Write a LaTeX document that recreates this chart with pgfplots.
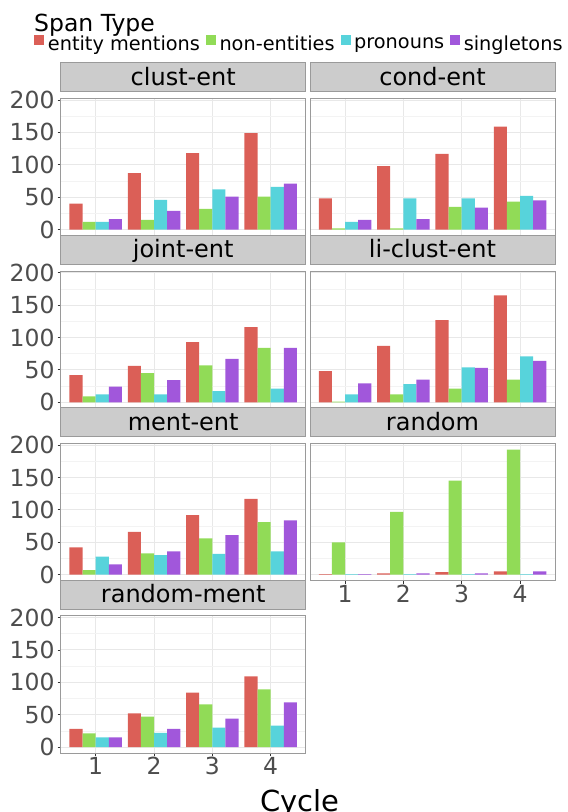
\documentclass[border=0pt]{standalone}
\usepackage{fontspec}
\setmainfont{DejaVu Sans}
\usepackage{pgfplots}
\usepackage{pgfplotstable}
\pgfplotsset{compat=1.18}

\definecolor{cRed}{HTML}{DB5F57}
\definecolor{cGreen}{HTML}{91DB57}
\definecolor{cCyan}{HTML}{57D3DB}
\definecolor{cPurple}{HTML}{A157DB}
\definecolor{stripfill}{HTML}{CCCCCC}
\definecolor{panelborder}{HTML}{9A9A9A}
\definecolor{gridmaj}{HTML}{E8E8E8}
\definecolor{gridmin}{HTML}{F3F3F3}
\definecolor{labelgray}{HTML}{4D4D4D}
\definecolor{tickcol}{HTML}{333333}

\newcommand\tickfont{\fontsize{23.5}{28}\selectfont}
\newcommand\stripfont{\fontsize{24}{29}\selectfont}
\newcommand\legfont{\fontsize{19.3}{23}\selectfont}
\newcommand\legtitlefont{\fontsize{23.5}{28}\selectfont}
\newcommand\cyclefont{\fontsize{29}{34}\selectfont}

\pgfplotstableread{
cycle red green cyan purple
1 40 12 12 16
2 87 15 46 29
3 118 32 62 51
4 149 51 66 71
}\clustent
\pgfplotstableread{
cycle red green cyan purple
1 48 2 12 15
2 98 2 48 16
3 117 35 48 34
4 159 43 52 45
}\condent
\pgfplotstableread{
cycle red green cyan purple
1 42 9 12 24
2 56 45 12 34
3 93 57 17 67
4 116 84 21 84
}\jointent
\pgfplotstableread{
cycle red green cyan purple
1 48 1 12 29
2 87 12 28 35
3 127 21 54 53
4 165 35 71 64
}\liclustent
\pgfplotstableread{
cycle red green cyan purple
1 42 7 28 16
2 66 33 30 36
3 92 56 32 61
4 117 81 36 84
}\mentent
\pgfplotstableread{
cycle red green cyan purple
1 1 50 1 1
2 2 97 1 2
3 4 145 1 2
4 5 193 1 5
}\randomt
\pgfplotstableread{
cycle red green cyan purple
1 28 21 15 15
2 52 47 22 28
3 84 66 30 44
4 109 89 33 69
}\randomment

\pgfplotsset{
  panel/.style={
    scale only axis, width=245pt, height=137.5pt,
    anchor=north west,
    xmin=0.4, xmax=4.6, ymin=-9.65, ymax=202.65,
    ybar, bar width=0.225,
    legend image code/.code={\fill[##1, draw=none] (0pt,-1pt) rectangle (10pt,9.5pt);},
    xtick={1,2,3,4}, ytick={0,50,100,150,200},
    minor ytick={25,75,125,175},
    grid=both,
    major grid style={draw=gridmaj, line width=0.9pt},
    minor grid style={draw=gridmin, line width=0.6pt},
    axis line style={draw=panelborder, line width=1pt},
    tick align=outside, major tick length=3pt, minor tick length=0pt,
    xminorticks=false, yminorticks=false,
    xtick pos=left, ytick pos=left,
    tick style={draw=tickcol, line width=0.8pt},
    tick label style={font=\tickfont, text=labelgray},
    /pgf/number format/assume math mode=true,
    yticklabel style={anchor=east, inner sep=0pt, xshift=-3pt},
    xticklabel style={anchor=north, inner sep=0pt, yshift=-1pt},
    title style={at={(0.5,1)}, anchor=south, yshift=0pt,
      fill=stripfill, draw=panelborder, line width=1pt,
      minimum width=245pt, minimum height=29.3pt, inner sep=0pt,
      text height=17.7pt, text depth=1.6pt,
      font=\stripfont, text=black},
  },
  noy/.style={yticklabels={}, ymajorticks=false},
  nox/.style={xticklabels={}, xmajorticks=false},
}

\newcommand\fourbars[1]{%
  \addplot[fill=cRed, draw=none, bar shift=-0.3375] table[x=cycle,y=red]{#1};
  \addplot[fill=cGreen, draw=none, bar shift=-0.1125] table[x=cycle,y=green]{#1};
  \addplot[fill=cCyan, draw=none, bar shift=0.1125] table[x=cycle,y=cyan]{#1};
  \addplot[fill=cPurple, draw=none, bar shift=0.3375] table[x=cycle,y=purple]{#1};
}

\begin{document}
\begin{tikzpicture}
\path[use as bounding box] (0pt,0pt) rectangle (568pt,-812pt);

\begin{axis}[panel, nox, at={(60.7pt,-98.3pt)}, title={clust-ent},
  legend columns=4,
  legend style={at={(-0.1073,1.3985)}, anchor=west, draw=none, fill=none,
    inner sep=0pt, outer sep=0pt, font=\legfont,
    nodes={inner sep=0pt},
    /tikz/every odd column/.append style={column sep=3.5pt},
    /tikz/every even column/.append style={column sep=6pt}},
  ]
\fourbars{\clustent}
\legend{entity mentions, non-entities, pronouns, singletons}
\end{axis}

\begin{axis}[panel, nox, noy, at={(310pt,-98.3pt)}, title={cond-ent}]
\fourbars{\condent}
\end{axis}

\begin{axis}[panel, nox, at={(60.7pt,-271pt)}, title={joint-ent}]
\fourbars{\jointent}
\end{axis}

\begin{axis}[panel, nox, noy, at={(310pt,-271pt)}, title={li-clust-ent}]
\fourbars{\liclustent}
\end{axis}

\begin{axis}[panel, nox, at={(60.7pt,-443.4pt)}, title={ment-ent}]
\fourbars{\mentent}
\end{axis}

\begin{axis}[panel, noy, at={(310pt,-443.4pt)}, title={random}]
\fourbars{\randomt}
\end{axis}

\begin{axis}[panel, at={(60.7pt,-615.8pt)}, title={random-ment}]
\fourbars{\randomment}
\end{axis}

\node[anchor=base west, inner sep=0pt, font=\legtitlefont] at (34pt,-31pt) {Span Type};
\node[anchor=base, inner sep=0pt, font=\cyclefont] at (300pt,-811pt) {Cycle};
\end{tikzpicture}
\end{document}
